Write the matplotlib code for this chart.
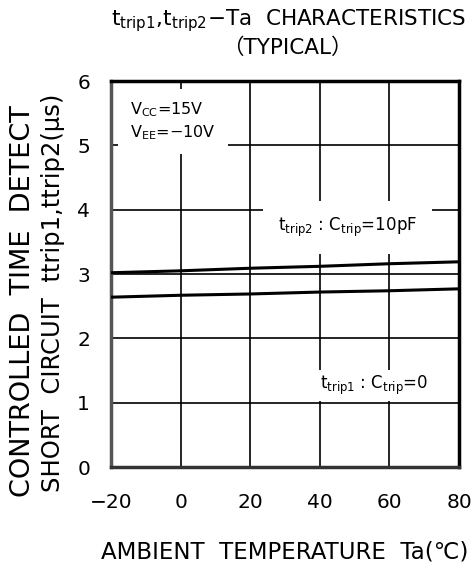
import matplotlib.pyplot as plt

plt.rcParams['font.family'] = ['DejaVu Sans', 'Noto Sans CJK JP']
plt.rcParams['mathtext.fontset'] = 'dejavusans'

ta = [-20, 0, 20, 40, 60, 80]
ttrip2 = [3.02, 3.05, 3.09, 3.12, 3.16, 3.19]
ttrip1 = [2.64, 2.67, 2.69, 2.72, 2.74, 2.77]
xticks = [-20, 0, 20, 40, 60, 80]
xticklabels = ['\u221220', '0', '20', '40', '60', '80']
yticks = [0, 1, 2, 3, 4, 5, 6]

fig = plt.figure(figsize=(4.77, 5.62), dpi=100)
ax = fig.add_axes([0.2327, 0.169, 0.7296, 0.6868])

ax.plot(ta, ttrip2, color='black', lw=2.2, zorder=3)
ax.plot(ta, ttrip1, color='black', lw=2.2, zorder=3)

ax.set_xlim(-20, 80)
ax.set_ylim(0, 6)
ax.set_xticks(xticks)
ax.set_xticklabels(xticklabels)
ax.set_yticks(yticks)
ax.tick_params(length=0, labelsize=14.5)
ax.tick_params(axis='y', pad=15)
ax.tick_params(axis='x', pad=19)
ax.grid(True, color='black', lw=1.2)
ax.set_axisbelow(True)
for s in ax.spines.values():
    s.set_linewidth(2.5)
    s.set_color('black')
ax.spines['left'].set_color('#555555')
ax.spines['bottom'].set_color('#333333')

ax.text(-14.5, 5.37, 'V$_{\\mathregular{CC}}$=15V\nV$_{\\mathregular{EE}}$=\u221210V',
        fontsize=11.5, va='center', ha='left', linespacing=1.3, zorder=4,
        bbox=dict(facecolor='white', edgecolor='none', boxstyle='square,pad=0.75'))
ax.text(28, 3.72, 't$_{\\mathregular{trip2}}$ : C$_{\\mathregular{trip}}$=10pF',
        fontsize=12, va='center', ha='left', zorder=4,
        bbox=dict(facecolor='white', edgecolor='none', boxstyle='square,pad=0.9'))
ax.text(40, 1.27, 't$_{\\mathregular{trip1}}$ : C$_{\\mathregular{trip}}$=0',
        fontsize=12, va='center', ha='left', zorder=4,
        bbox=dict(facecolor='white', edgecolor='none', pad=3))

fig.text(0.606, 0.963, 't$_{\\mathregular{trip1}}$,t$_{\\mathregular{trip2}}$\u2212Ta  CHARACTERISTICS',
         fontsize=15.5, ha='center', va='center')
fig.text(0.603, 0.915, '\uff08TYPICAL\uff09', fontsize=15.5, ha='center', va='center')
fig.text(0.596, 0.018, 'AMBIENT  TEMPERATURE  Ta(\u2103)', fontsize=16.5, ha='center', va='center')
fig.text(0.048, 0.465, 'CONTROLLED  TIME  DETECT', fontsize=19.5, rotation=90, ha='center', va='center')
fig.text(0.112, 0.479, 'SHORT  CIRCUIT  ttrip1,ttrip2(\u03bcs)', fontsize=17.5, rotation=90,
         ha='center', va='center')

fig.savefig('out.png', dpi=100)
